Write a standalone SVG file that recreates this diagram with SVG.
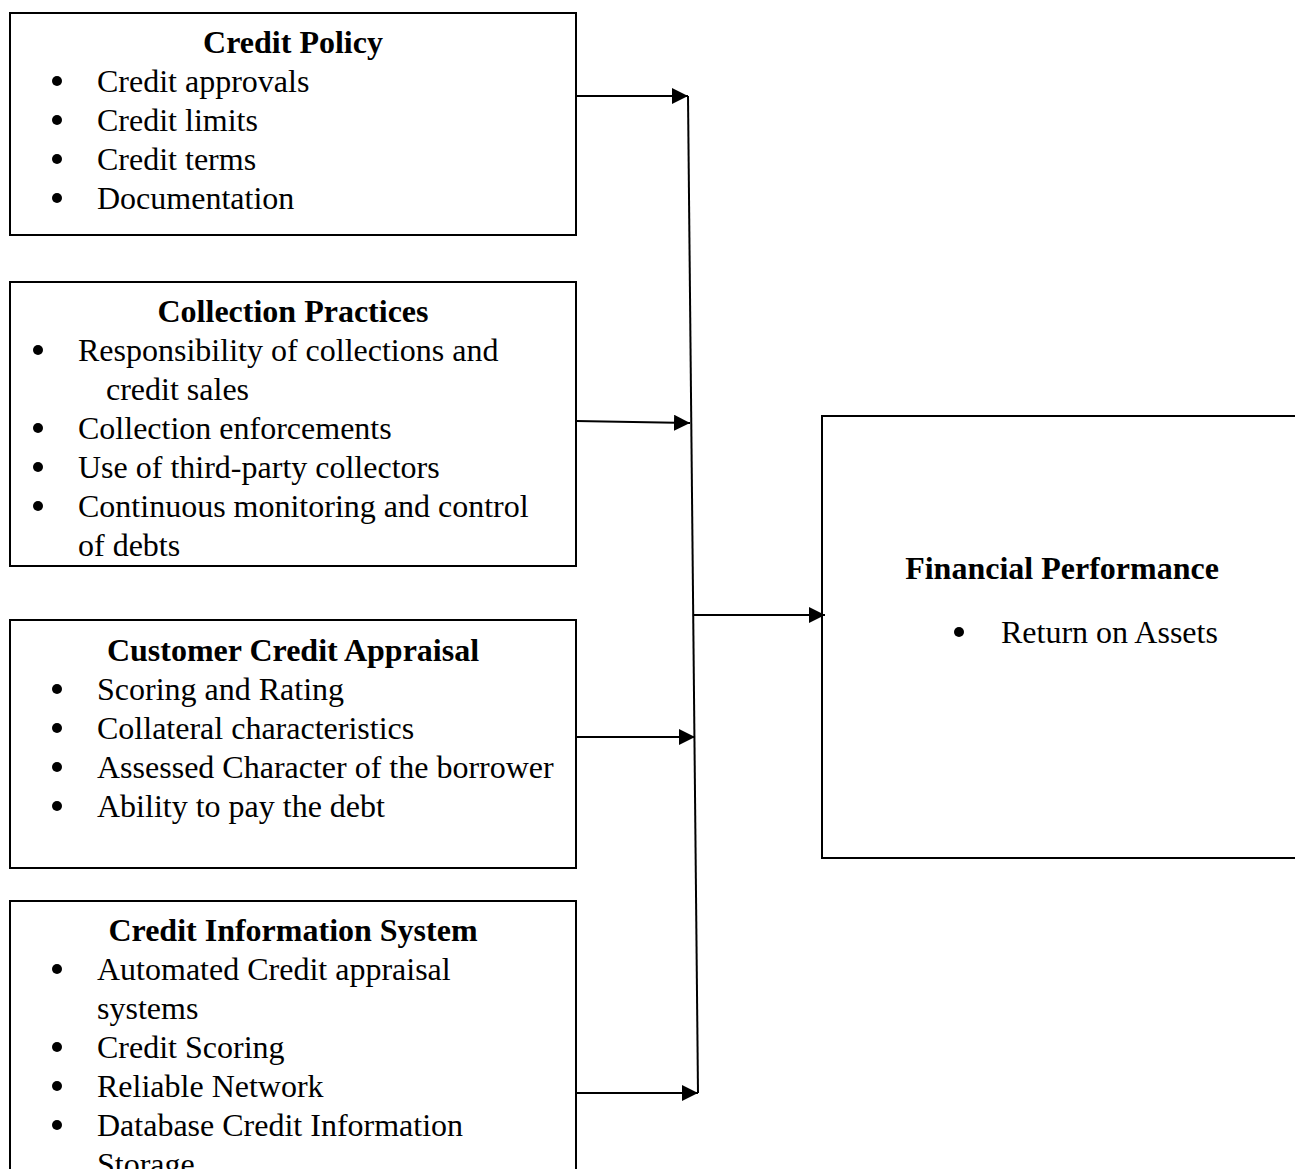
<svg xmlns="http://www.w3.org/2000/svg" width="1295" height="1169" viewBox="0 0 1295 1169">
<style>
.box{fill:#fff;stroke:#000;stroke-width:2}
text{font-family:"Liberation Serif","Times New Roman",serif;font-size:32px;fill:#000}
.t{font-weight:bold;text-anchor:middle}
.ln{stroke:#000;stroke-width:2;fill:none}
</style>
<defs>
<marker id="ah" markerUnits="userSpaceOnUse" markerWidth="18" markerHeight="16" refX="16" refY="8" orient="auto">
<path d="M0,0 L16,8 L0,16 Z" fill="#000"/>
</marker>
<circle id="b" r="5" fill="#000"/>
</defs>
<rect width="1295" height="1169" fill="#fff"/>

<g id="credit-policy">
<rect class="box" x="10" y="13" width="566" height="222"/>
<text class="t" x="293" y="53">Credit Policy</text>
<use href="#b" x="57" y="81"/><text x="97" y="92">Credit approvals</text>
<use href="#b" x="57" y="120"/><text x="97" y="131">Credit limits</text>
<use href="#b" x="57" y="159"/><text x="97" y="170">Credit terms</text>
<use href="#b" x="57" y="198"/><text x="97" y="209">Documentation</text>
</g>

<g id="collection-practices">
<rect class="box" x="10" y="282" width="566" height="284"/>
<text class="t" x="293" y="322">Collection Practices</text>
<use href="#b" x="38" y="350"/><text x="78" y="361">Responsibility of collections and</text>
<text x="106" y="400">credit sales</text>
<use href="#b" x="38" y="428"/><text x="78" y="439">Collection enforcements</text>
<use href="#b" x="38" y="467"/><text x="78" y="478">Use of third-party collectors</text>
<use href="#b" x="38" y="506"/><text x="78" y="517">Continuous monitoring and control</text>
<text x="78" y="556">of debts</text>
</g>

<g id="customer-credit-appraisal">
<rect class="box" x="10" y="620" width="566" height="248"/>
<text class="t" x="293" y="661">Customer Credit Appraisal</text>
<use href="#b" x="57" y="689"/><text x="97" y="700">Scoring and Rating</text>
<use href="#b" x="57" y="728"/><text x="97" y="739">Collateral characteristics</text>
<use href="#b" x="57" y="767"/><text x="97" y="778">Assessed Character of the borrower</text>
<use href="#b" x="57" y="806"/><text x="97" y="817">Ability to pay the debt</text>
</g>

<g id="credit-information-system">
<rect class="box" x="10" y="901" width="566" height="290"/>
<text class="t" x="293" y="941">Credit Information System</text>
<use href="#b" x="57" y="969"/><text x="97" y="980">Automated Credit appraisal</text>
<text x="97" y="1019">systems</text>
<use href="#b" x="57" y="1047"/><text x="97" y="1058">Credit Scoring</text>
<use href="#b" x="57" y="1086"/><text x="97" y="1097">Reliable Network</text>
<use href="#b" x="57" y="1125"/><text x="97" y="1136">Database Credit Information</text>
<text x="97" y="1175">Storage</text>
</g>

<g id="financial-performance">
<rect class="box" x="822" y="416" width="490" height="442"/>
<text class="t" x="1062" y="579">Financial Performance</text>
<use href="#b" x="959" y="632"/><text x="1001" y="643">Return on Assets</text>
</g>

<g id="connectors">
<line class="ln" x1="688" y1="96" x2="698" y2="1093"/>
<line class="ln" x1="576" y1="96" x2="688" y2="96" marker-end="url(#ah)"/>
<line class="ln" x1="576" y1="421" x2="690" y2="423" marker-end="url(#ah)"/>
<line class="ln" x1="576" y1="737" x2="695" y2="737" marker-end="url(#ah)"/>
<line class="ln" x1="576" y1="1093" x2="698" y2="1093" marker-end="url(#ah)"/>
<line class="ln" x1="693" y1="615" x2="825" y2="615" marker-end="url(#ah)"/>
</g>
</svg>
